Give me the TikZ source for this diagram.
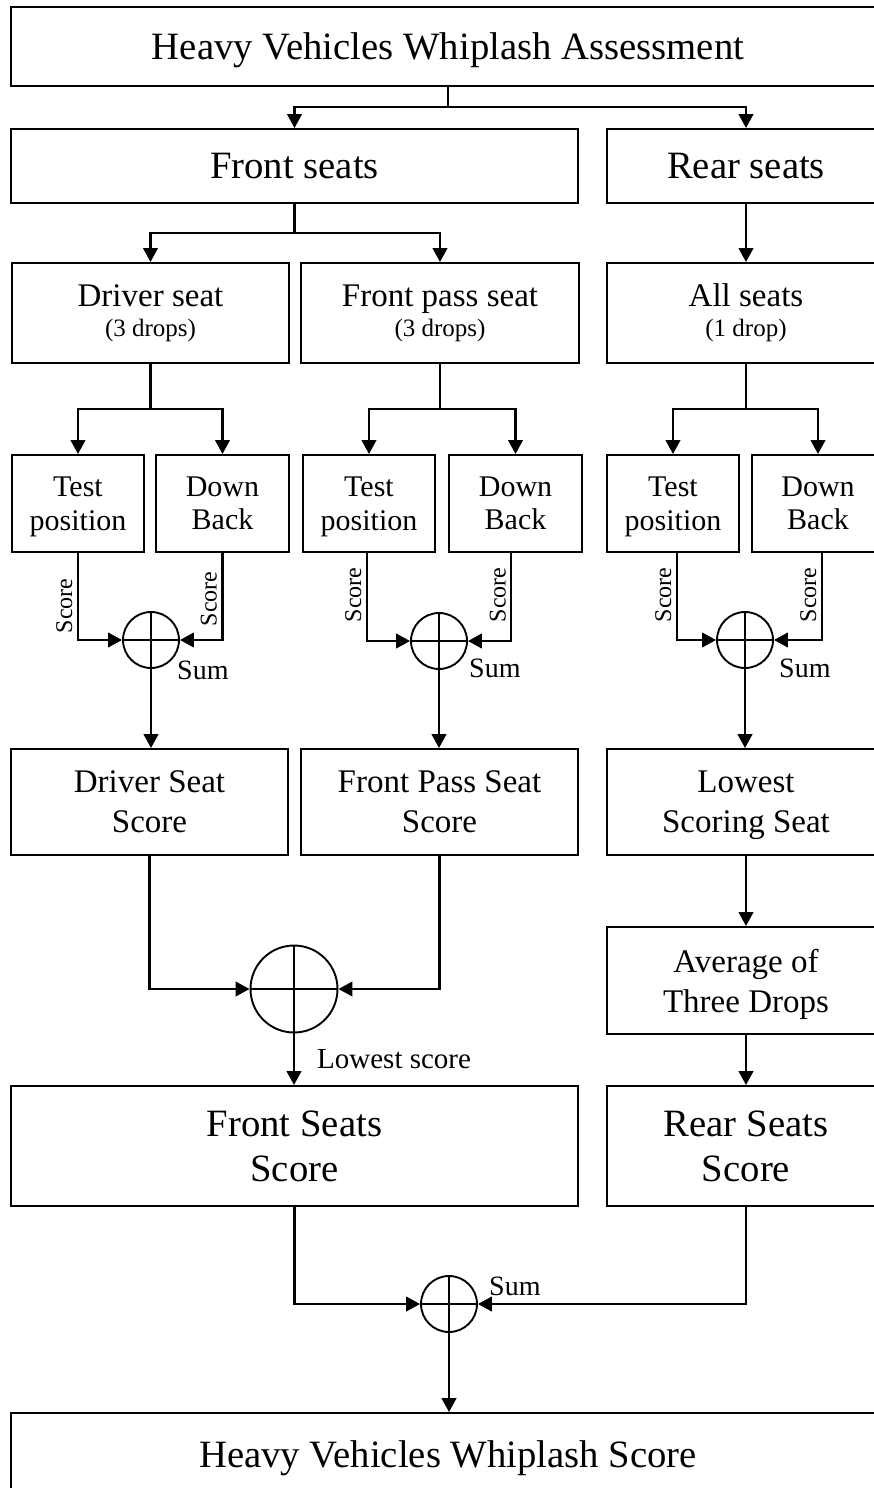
\documentclass[tikz,border=0pt]{standalone}
\usepackage{fontspec}
\setmainfont{Liberation Serif}
\usetikzlibrary{arrows.meta}
\newcommand\fbig{\fontsize{38.7}{45}\selectfont}
\newcommand\fmed{\fontsize{33}{40}\selectfont}
\newcommand\fsmall{\fontsize{30}{33.5}\selectfont}
\newcommand\fparen{\fontsize{25}{30}\selectfont}
\newcommand\fscorelbl{\fontsize{24}{28}\selectfont}
\newcommand\fsumlbl{\fontsize{28}{32}\selectfont}
\newcommand\flowlbl{\fontsize{29}{33}\selectfont}
\newcommand\nodepth[1]{\raisebox{0pt}[\height][0pt]{#1}}
\tikzset{
  box/.style={draw, line width=1.9pt, rectangle, inner sep=0pt, align=center},
  conn/.style={line width=2.6pt},
  arr/.style={conn, -{Triangle[length=14pt,width=14.5pt]}},
  sumnode/.style={circle, draw, line width=1.9pt, minimum size=#1, inner sep=0pt,
    path picture={\draw[line width=1.9pt] (path picture bounding box.north) -- (path picture bounding box.south)
      (path picture bounding box.west) -- (path picture bounding box.east);}},
  scorelbl/.style={rotate=90, anchor=base, inner sep=0pt, font=\fscorelbl},
  sumlbl/.style={anchor=base west, inner sep=0pt, font=\fsumlbl}
}
\begin{document}
\begin{tikzpicture}[x=1pt,y=-1pt]
\useasboundingbox (0,0) rectangle (873,1488);
% level 0
\node[box, minimum width=874, minimum height=79, font=\fbig, text depth=0pt] (title) at (448,46.5) {Heavy Vehicles Whiplash Assessment};
% level 1
\node[box, minimum width=567, minimum height=74, font=\fbig] (front) at (294.5,166) {Front seats};
\node[box, minimum width=278, minimum height=74, font=\fbig] (rear) at (746,166) {Rear seats};
% level 2
\node[box, minimum width=277, minimum height=100, font=\fontsize{33}{30}\selectfont] (driver) at (150.5,313) {Driver seat\\{\fparen (3 drops)}};
\node[box, minimum width=278, minimum height=100, font=\fontsize{33}{30}\selectfont] (fpass) at (440,313) {Front pass seat\\{\fparen (3 drops)}};
\node[box, minimum width=278, minimum height=100, font=\fontsize{33}{30}\selectfont] (alls) at (746,313) {All seats\\{\fparen (1 drop)}};
% level 3
\node[box, minimum width=132, minimum height=97, font=\fsmall] (dtest) at (78,503.5) {Test\\\nodepth{position}};
\node[box, minimum width=133, minimum height=97, font=\fsmall] (ddown) at (222.5,503.5) {Down\\Back};
\node[box, minimum width=132, minimum height=97, font=\fsmall] (ftest) at (369,503.5) {Test\\\nodepth{position}};
\node[box, minimum width=133, minimum height=97, font=\fsmall] (fdown) at (515.5,503.5) {Down\\Back};
\node[box, minimum width=132, minimum height=97, font=\fsmall] (rtest) at (673,503.5) {Test\\\nodepth{position}};
\node[box, minimum width=132, minimum height=97, font=\fsmall] (rdown) at (818,503.5) {Down\\Back};
% sum circles
\node[sumnode=56] (s1) at (151,640) {};
\node[sumnode=56] (s2) at (439,641) {};
\node[sumnode=56] (s3) at (745,640) {};
% level 4
\node[box, minimum width=277, minimum height=106, font=\fmed] (dscore) at (149.5,802) {Driver Seat\\Score};
\node[box, minimum width=277, minimum height=106, font=\fmed] (fscore) at (439.5,802) {Front Pass Seat\\Score};
\node[box, minimum width=278, minimum height=106, font=\fmed] (lowest) at (746,802) {Lowest\\\nodepth{Scoring Seat}};
\node[box, minimum width=278, minimum height=107, font=\fmed] (avg) at (746,980.5) {Average of\\\nodepth{Three Drops}};
\node[sumnode=87] (bigsum) at (294,989) {};
% level 5
\node[box, minimum width=567, minimum height=120, font=\fbig] (fss) at (294.5,1146) {Front Seats\\Score};
\node[box, minimum width=278, minimum height=120, font=\fbig] (rss) at (746,1146) {Rear Seats\\Score};
\node[sumnode=56] (bsum) at (449,1304) {};
\node[box, minimum width=874, minimum height=82, font=\fbig, text depth=0pt] (final) at (448,1454) {Heavy Vehicles Whiplash Score};
% junction coordinates
\coordinate (j1) at (448,107);
\coordinate (j2) at (294.5,233);
\coordinate (j3) at (150.5,409);
\coordinate (j4) at (440,409);
\coordinate (j5) at (746,409);
% connectors top
\draw[conn] (title.south) -- (j1);
\draw[arr] (j1) -| (front.north);
\draw[arr] (j1) -| (rear.north);
\draw[conn] (front.south) -- (j2);
\draw[arr] (j2) -| (driver.north);
\draw[arr] (j2) -| (fpass.north);
\draw[arr] (rear.south) -- (alls.north);
\draw[conn] (driver.south) -- (j3);
\draw[arr] (j3) -| (dtest.north);
\draw[arr] (j3) -| (ddown.north);
\draw[conn] (fpass.south) -- (j4);
\draw[arr] (j4) -| (ftest.north);
\draw[arr] (j4) -| (fdown.north);
\draw[conn] (alls.south) -- (j5);
\draw[arr] (j5) -| (rtest.north);
\draw[arr] (j5) -| (rdown.north);
% score lines into small sums
\draw[arr] (dtest.south) |- (s1.west);
\draw[arr] (ddown.south) |- (s1.east);
\draw[arr] ([xshift=-2pt]ftest.south) |- (s2.west);
\draw[arr] ([xshift=-4.5pt]fdown.south) |- (s2.east);
\draw[arr] ([xshift=4pt]rtest.south) |- (s3.west);
\draw[arr] ([xshift=4pt]rdown.south) |- (s3.east);
% score labels
\node[scorelbl] (l1) at (72,606) {Score};
\node[scorelbl] (l2) at (216.5,599) {Score};
\node[scorelbl] (l3) at (361,595) {Score};
\node[scorelbl] (l4) at (505.5,595) {Score};
\node[scorelbl] (l5) at (671,595) {Score};
\node[scorelbl] (l6) at (816,595) {Score};
\node[sumlbl] (u1) at (177,679) {Sum};
\node[sumlbl] (u2) at (469,677) {Sum};
\node[sumlbl] (u3) at (779,677) {Sum};
% sums to score boxes
\draw[arr] (s1.south) -- (s1.south |- dscore.north);
\draw[arr] (s2.south) -- (s2.south |- fscore.north);
\draw[arr] (s3.south) -- (s3.south |- lowest.north);
% score boxes to big sum
\draw[arr] (dscore.south) |- (bigsum.west);
\draw[arr] (fscore.south) |- (bigsum.east);
\draw[arr] (bigsum.south) -- (bigsum.south |- fss.north);
\node[anchor=base west, inner sep=0pt, font=\flowlbl] (lowlbl) at (317,1068) {Lowest score};
% rear chain
\draw[arr] (lowest.south) -- (avg.north);
\draw[arr] (avg.south) -- (rss.north);
% final
\draw[arr] (fss.south) |- (bsum.west);
\draw[arr] (rss.south) |- (bsum.east);
\node[sumlbl] (u4) at (489,1295) {Sum};
\draw[arr] (bsum.south) -- (bsum.south |- final.north);
\end{tikzpicture}
\end{document}
